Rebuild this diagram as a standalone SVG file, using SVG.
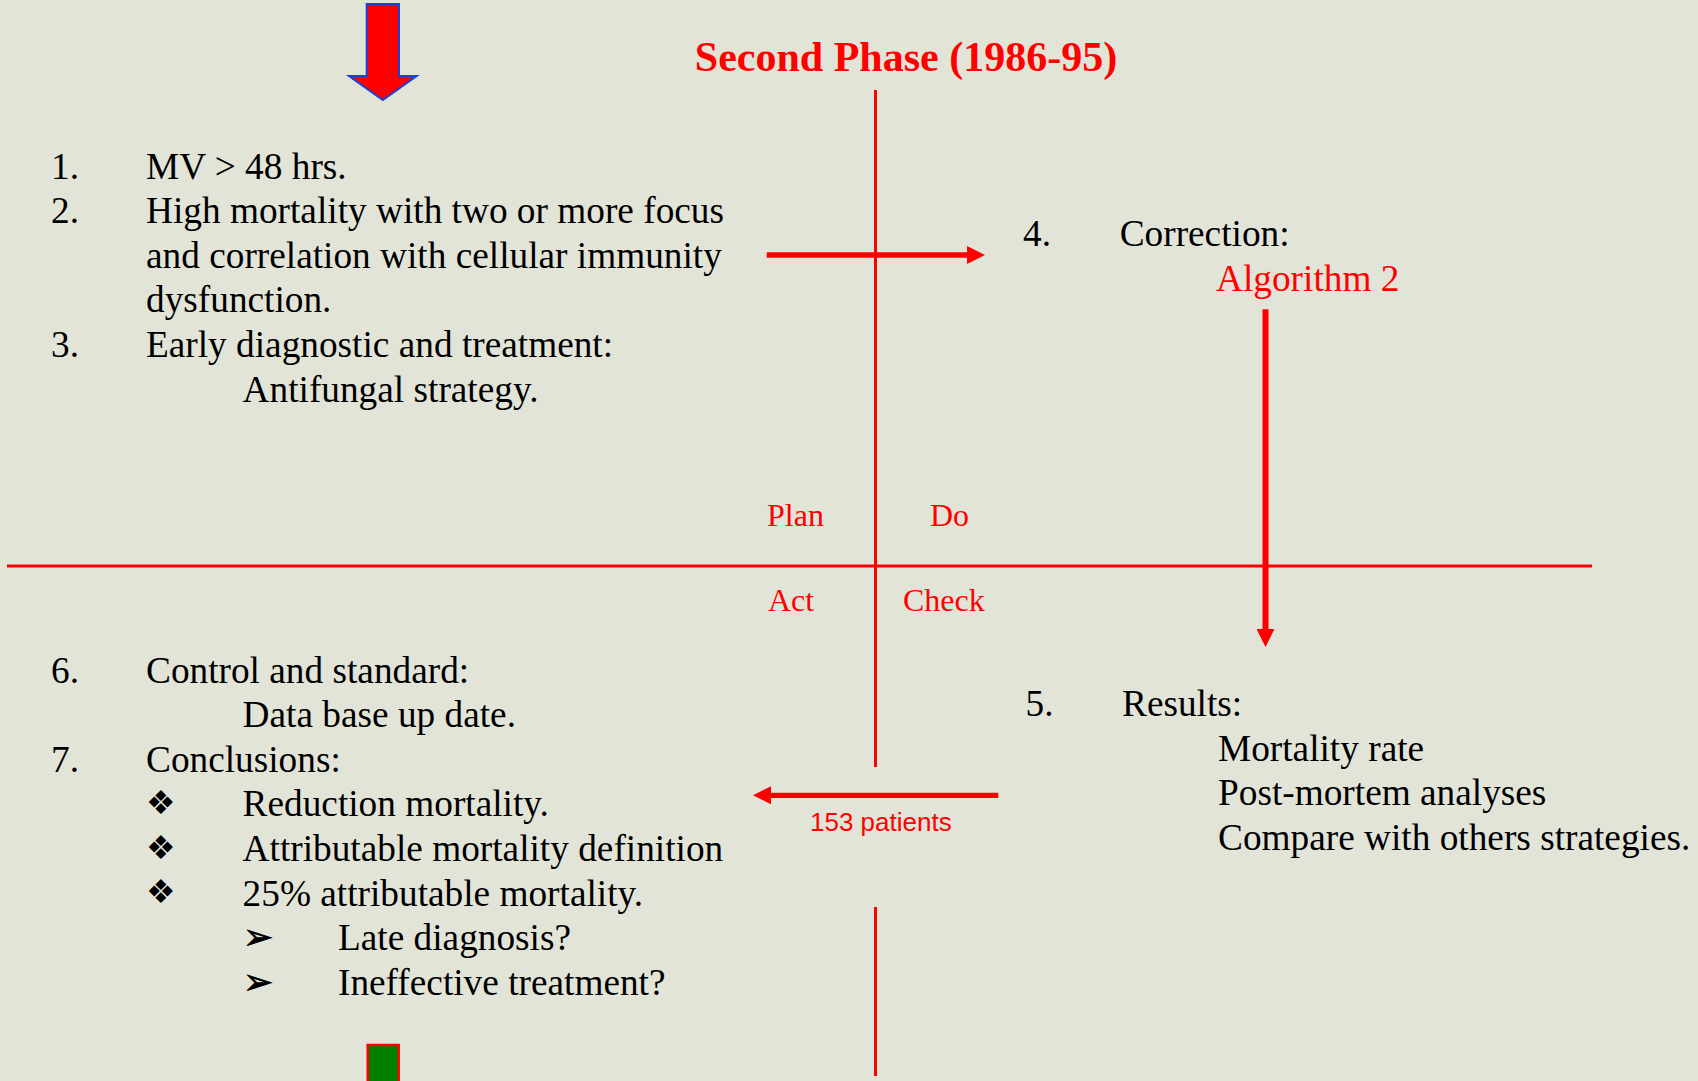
<svg xmlns="http://www.w3.org/2000/svg" width="1698" height="1081" viewBox="0 0 1698 1081">
  <style>
    .body { font-family: "Liberation Serif", "Times New Roman", serif; font-size: 37.3px; fill: #000000; }
    .red { fill: #ff0000; }
    .quad { font-family: "Liberation Serif", "Times New Roman", serif; font-size: 32px; fill: #ff0000; }
    .title { font-family: "Liberation Serif", "Times New Roman", serif; font-size: 42px; font-weight: bold; fill: #ff0000; }
    .sans { font-family: "Liberation Sans", Arial, sans-serif; font-size: 26px; fill: #ff0000; }
    .dia { font-family: "DejaVu Sans", sans-serif; font-size: 33px; fill: #000000; }
    .tip { font-family: "DejaVu Sans", sans-serif; font-size: 36px; fill: #000000; stroke: #000000; stroke-width: 0.8; }
    .axis { stroke: #ff0000; stroke-width: 3; fill: none; }
    .flow { stroke: #ff0000; fill: none; }
  </style>
  <defs>
    <marker id="head" viewBox="0 0 18 18" refX="0" refY="9" markerWidth="18" markerHeight="18" markerUnits="userSpaceOnUse" orient="auto">
      <path d="M0,0 L18,9 L0,18 Z" fill="#ff0000"/>
    </marker>
  </defs>

  <rect x="0" y="0" width="1698" height="1081" fill="#e3e4d8"/>

  <!-- PDCA quadrant axes -->
  <g id="axes">
    <line class="axis" x1="875.5" y1="90" x2="875.5" y2="767"/>
    <line class="axis" x1="875.5" y1="907" x2="875.5" y2="1076"/>
    <line class="axis" x1="7" y1="566" x2="1592" y2="566"/>
  </g>

  <!-- entry arrow -->
  <g id="entry-arrow">
    <polygon points="366.7,4 399,4 399,76 416.7,76 382.8,100 349,76 366.7,76" fill="#ff0000" stroke="#1f3fd8" stroke-width="2"/>
  </g>

  <g id="title">
    <text class="title" x="906" y="71" text-anchor="middle">Second Phase (1986-95)</text>
  </g>

  <!-- quadrant labels -->
  <g id="quadrant-labels">
    <text class="quad" x="767" y="526">Plan</text>
    <text class="quad" x="930" y="526">Do</text>
    <text class="quad" x="768" y="611">Act</text>
    <text class="quad" x="903" y="611">Check</text>
  </g>

  <!-- Plan -->
  <g id="plan">
    <text class="body" x="51" y="178.5">1.</text>
    <text class="body" x="146" y="178.5">MV &gt; 48 hrs.</text>
    <text class="body" x="51" y="223.1">2.</text>
    <text class="body" x="146" y="223.1">High mortality with two or more focus</text>
    <text class="body" x="146" y="267.7">and correlation with cellular immunity</text>
    <text class="body" x="146" y="312.3">dysfunction.</text>
    <text class="body" x="51" y="356.9">3.</text>
    <text class="body" x="146" y="356.9">Early diagnostic and treatment:</text>
    <text class="body" x="242.6" y="401.5">Antifungal strategy.</text>
  </g>

  <!-- Do -->
  <g id="do">
    <text class="body" x="1023" y="246">4.</text>
    <text class="body" x="1119.7" y="246">Correction:</text>
    <text class="body red" x="1216" y="290.5">Algorithm 2</text>
  </g>

  <!-- Check -->
  <g id="check">
    <text class="body" x="1025.5" y="716">5.</text>
    <text class="body" x="1122" y="716">Results:</text>
    <text class="body" x="1218" y="760.6">Mortality rate</text>
    <text class="body" x="1218" y="805.2">Post-mortem analyses</text>
    <text class="body" x="1218" y="849.8">Compare with others strategies.</text>
  </g>

  <!-- Act -->
  <g id="act">
    <text class="body" x="51" y="682.5">6.</text>
    <text class="body" x="146" y="682.5">Control and standard:</text>
    <text class="body" x="242.6" y="727.1">Data base up date.</text>
    <text class="body" x="51" y="771.7">7.</text>
    <text class="body" x="146" y="771.7">Conclusions:</text>
    <text class="dia" x="146" y="814">❖</text>
    <text class="body" x="242.6" y="816.3">Reduction mortality.</text>
    <text class="dia" x="146" y="858.6">❖</text>
    <text class="body" x="242.6" y="860.9">Attributable mortality definition</text>
    <text class="dia" x="146" y="903.2">❖</text>
    <text class="body" x="242.6" y="905.5">25% attributable mortality.</text>
    <text class="tip" x="243" y="949">➢</text>
    <text class="body" x="338" y="950.1">Late diagnosis?</text>
    <text class="tip" x="243" y="993.6">➢</text>
    <text class="body" x="338" y="994.7">Ineffective treatment?</text>
  </g>

  <!-- next-cycle marker -->
  <g id="next-cycle">
    <rect x="367.7" y="1045" width="31" height="40" fill="#008000" stroke="#ff0000" stroke-width="2.5"/>
  </g>

  <!-- cycle connectors -->
  <g id="connectors">
    <line class="flow" x1="766.7" y1="255" x2="967" y2="255" stroke-width="5.5" marker-end="url(#head)"/>
    <line class="flow" x1="1265.5" y1="309.3" x2="1265.5" y2="629" stroke-width="6" marker-end="url(#head)"/>
    <line class="flow" x1="998.3" y1="795.3" x2="771" y2="795.3" stroke-width="5.3" marker-end="url(#head)"/>
    <text class="sans" x="810" y="830.7">153 patients</text>
  </g>
</svg>
